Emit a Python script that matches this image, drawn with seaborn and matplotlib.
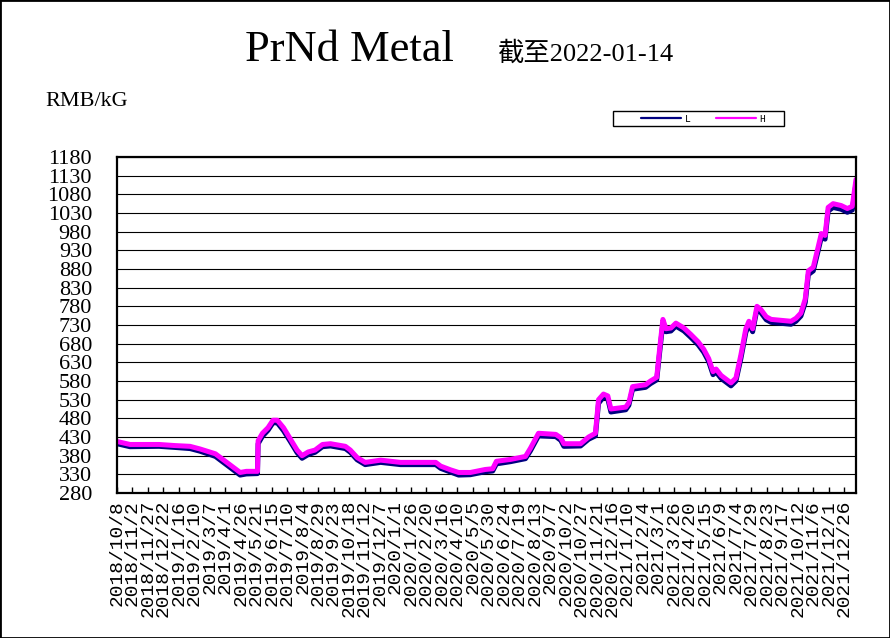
import matplotlib
matplotlib.use("Agg")
import matplotlib.pyplot as plt
import matplotlib.dates as mdates
from matplotlib.patches import Rectangle
from matplotlib.lines import Line2D
import seaborn as sns
import pandas as pd

# ---------------- data ----------------
dates = [
    "2018-10-08", "2018-10-29", "2018-12-15", "2019-01-10", "2019-02-03", "2019-02-19",
    "2019-03-16", "2019-04-01", "2019-04-17", "2019-04-25", "2019-05-05", "2019-05-23",
    "2019-05-24", "2019-05-31", "2019-06-09", "2019-06-17", "2019-06-24", "2019-07-04",
    "2019-07-15", "2019-07-26", "2019-08-03", "2019-08-13", "2019-08-24", "2019-09-05",
    "2019-09-18", "2019-10-12", "2019-10-20", "2019-10-31", "2019-11-13", "2019-12-08",
    "2020-01-09", "2020-03-06", "2020-03-14", "2020-03-30", "2020-04-12", "2020-05-01",
    "2020-05-25", "2020-06-06", "2020-06-12", "2020-07-05", "2020-07-29", "2020-08-06",
    "2020-08-19", "2020-09-16", "2020-09-24", "2020-09-29", "2020-10-26", "2020-11-08",
    "2020-11-19", "2020-11-24", "2020-12-02", "2020-12-09", "2020-12-14", "2021-01-07",
    "2021-01-12", "2021-01-18", "2021-02-08", "2021-02-16", "2021-02-26", "2021-03-03",
    "2021-03-08", "2021-03-13", "2021-03-21", "2021-03-29", "2021-04-11", "2021-04-22",
    "2021-05-04", "2021-05-13", "2021-05-21", "2021-05-28", "2021-06-02", "2021-06-10",
    "2021-06-18", "2021-06-26", "2021-07-04", "2021-07-12", "2021-07-20", "2021-07-25",
    "2021-07-31", "2021-08-07", "2021-08-13", "2021-08-22", "2021-08-30", "2021-10-01",
    "2021-10-09", "2021-10-17", "2021-10-24", "2021-10-29", "2021-11-06", "2021-11-14",
    "2021-11-19", "2021-11-25", "2021-11-30", "2021-12-08", "2021-12-21", "2021-12-31",
    "2022-01-08", "2022-01-14",
]
price_high = [
    418, 410, 410, 407, 405, 398,
    385, 365, 345, 335, 338, 338,
    420, 440, 455, 475, 475, 455,
    425, 395, 380, 390, 395, 410,
    412, 405, 395, 375, 362, 368,
    362, 362, 352, 342, 335, 335,
    343, 345, 365, 370, 378, 400,
    440, 437, 428, 412, 412, 430,
    440, 530, 545, 540, 505, 510,
    522, 565, 570, 580, 590, 670,
    745, 720, 722, 735, 722, 705,
    685, 665, 640, 605, 612, 595,
    585, 575, 588, 650, 720, 740,
    720, 780, 772, 752, 745, 740,
    748, 762, 800, 875, 885, 940,
    975, 970, 1045, 1055, 1050, 1042,
    1048, 1120,
]
price_low = [
    412, 404, 405, 402, 399, 392,
    378, 358, 338, 328, 331, 332,
    412, 432, 448, 468, 468, 447,
    418, 388, 373, 383, 389, 404,
    406, 399, 389, 369, 356, 362,
    356, 356, 346, 336, 328, 329,
    337, 339, 358, 364, 372, 393,
    433, 431, 421, 405, 406, 424,
    433, 520, 537, 532, 497, 503,
    515, 558, 563, 573, 583, 660,
    735, 712, 714, 727, 714, 697,
    677, 657, 632, 597, 604, 587,
    577, 567, 580, 640, 710, 732,
    712, 772, 764, 744, 737, 732,
    740, 754, 790, 865, 875, 930,
    965, 960, 1035, 1045, 1040, 1032,
    1038, 1110,
]
series_names = ["L", "H"]
y_ticks = [280, 330, 380, 430, 480, 530, 580, 630, 680, 730, 780, 830,
           880, 930, 980, 1030, 1080, 1130, 1180]
x_tick_labels = [
    "2018/10/8", "2018/11/2", "2018/11/27", "2018/12/22", "2019/1/16", "2019/2/10",
    "2019/3/7", "2019/4/1", "2019/4/26", "2019/5/21", "2019/6/15", "2019/7/10",
    "2019/8/4", "2019/8/29", "2019/9/23", "2019/10/18", "2019/11/12", "2019/12/7",
    "2020/1/1", "2020/1/26", "2020/2/20", "2020/3/16", "2020/4/10", "2020/5/5",
    "2020/5/30", "2020/6/24", "2020/7/19", "2020/8/13", "2020/9/7", "2020/10/2",
    "2020/10/27", "2020/11/21", "2020/12/16", "2021/1/10", "2021/2/4", "2021/3/1",
    "2021/3/26", "2021/4/20", "2021/5/15", "2021/6/9", "2021/7/4", "2021/7/29",
    "2021/8/23", "2021/9/17", "2021/10/12", "2021/11/6", "2021/12/1", "2021/12/26",
]
title_text = "PrNd Metal"
subtitle_text = "截至2022-01-14"
unit_text = "RMB/kG"

# ---------------- styling ----------------
sns.set_style("white")
plt.rcParams["font.family"] = ["Liberation Serif", "Noto Sans CJK SC", "DejaVu Sans"]
plt.rcParams["text.color"] = "black"
plt.rcParams["xtick.color"] = "black"
plt.rcParams["ytick.color"] = "black"
plt.rcParams["axes.labelcolor"] = "black"

W, H = 890, 638
fig = plt.figure(figsize=(W / 100, H / 100), dpi=100)
fig.patch.set_facecolor("white")
ax = fig.add_axes([117 / W, 1 - 493 / H, (856 - 117) / W, (493 - 157) / H])

df = pd.DataFrame({"date": pd.to_datetime(dates), "L": price_low, "H": price_high})
colors = {"L": "#000080", "H": "#FF00FF"}
for name in series_names:
    sns.lineplot(data=df, x="date", y=name, color=colors[name], lw=3.6,
                 ax=ax, legend=False, solid_joinstyle="round")

ax.set_ylim(y_ticks[0], y_ticks[-1])
ax.set_yticks(y_ticks)
ax.set_yticklabels([str(v) for v in y_ticks], fontsize=16, fontfamily="Liberation Serif")
ax.grid(axis="y", color="black", lw=0.8)
ax.grid(axis="x", visible=False)
ax.set_axisbelow(True)

ax.set_xlim(mdates.date2num(pd.Timestamp("2018-10-08")),
            mdates.date2num(pd.Timestamp("2022-01-14")))
tick_pos = mdates.date2num(pd.to_datetime(x_tick_labels, format="%Y/%m/%d"))
ax.set_xticks(tick_pos)
ax.set_xticklabels(x_tick_labels, rotation=90, fontsize=14, fontfamily="Liberation Mono")
ax.tick_params(axis="x", direction="in", length=4, width=1, pad=5, bottom=True,
               colors="black")
ax.tick_params(axis="y", length=0, pad=18, colors="black")
for s in ax.spines.values():
    s.set_linewidth(1.6)
    s.set_color("black")
ax.set_xlabel("")
ax.set_ylabel("")

# titles
fig.text(245 / W, 1 - 61 / H, title_text, fontsize=32, fontfamily="Liberation Serif",
         ha="left", va="baseline", color="black")
fig.text(497 / W, 1 - 61 / H, subtitle_text, fontsize=19,
         fontfamily=["Liberation Serif", "Noto Sans CJK SC"], ha="left", va="baseline",
         color="black")
fig.text(45 / W, 1 - 106 / H, unit_text, fontsize=16, fontfamily="Liberation Serif",
         ha="left", va="baseline", color="black")

# legend
handles = [Line2D([], [], color=colors[n], lw=1.6) for n in series_names]
fig.legend(handles, series_names, ncol=2, loc="center",
           bbox_to_anchor=(703 / W, 1 - 118.5 / H), frameon=False,
           prop={"family": "Liberation Mono", "size": 7},
           handlelength=4.1, handletextpad=0.4, columnspacing=2.6, borderpad=0.2)
fig.add_artist(Rectangle((613 / W, 1 - 126 / H), (784 - 613) / W, 15 / H,
                         transform=fig.transFigure, fill=False, ec="black", lw=1))

# outer border
fig.add_artist(Rectangle((0, 0), 1, 1, transform=fig.transFigure, fill=False,
                         ec="black", lw=2))

fig.savefig("out.png", dpi=100)
